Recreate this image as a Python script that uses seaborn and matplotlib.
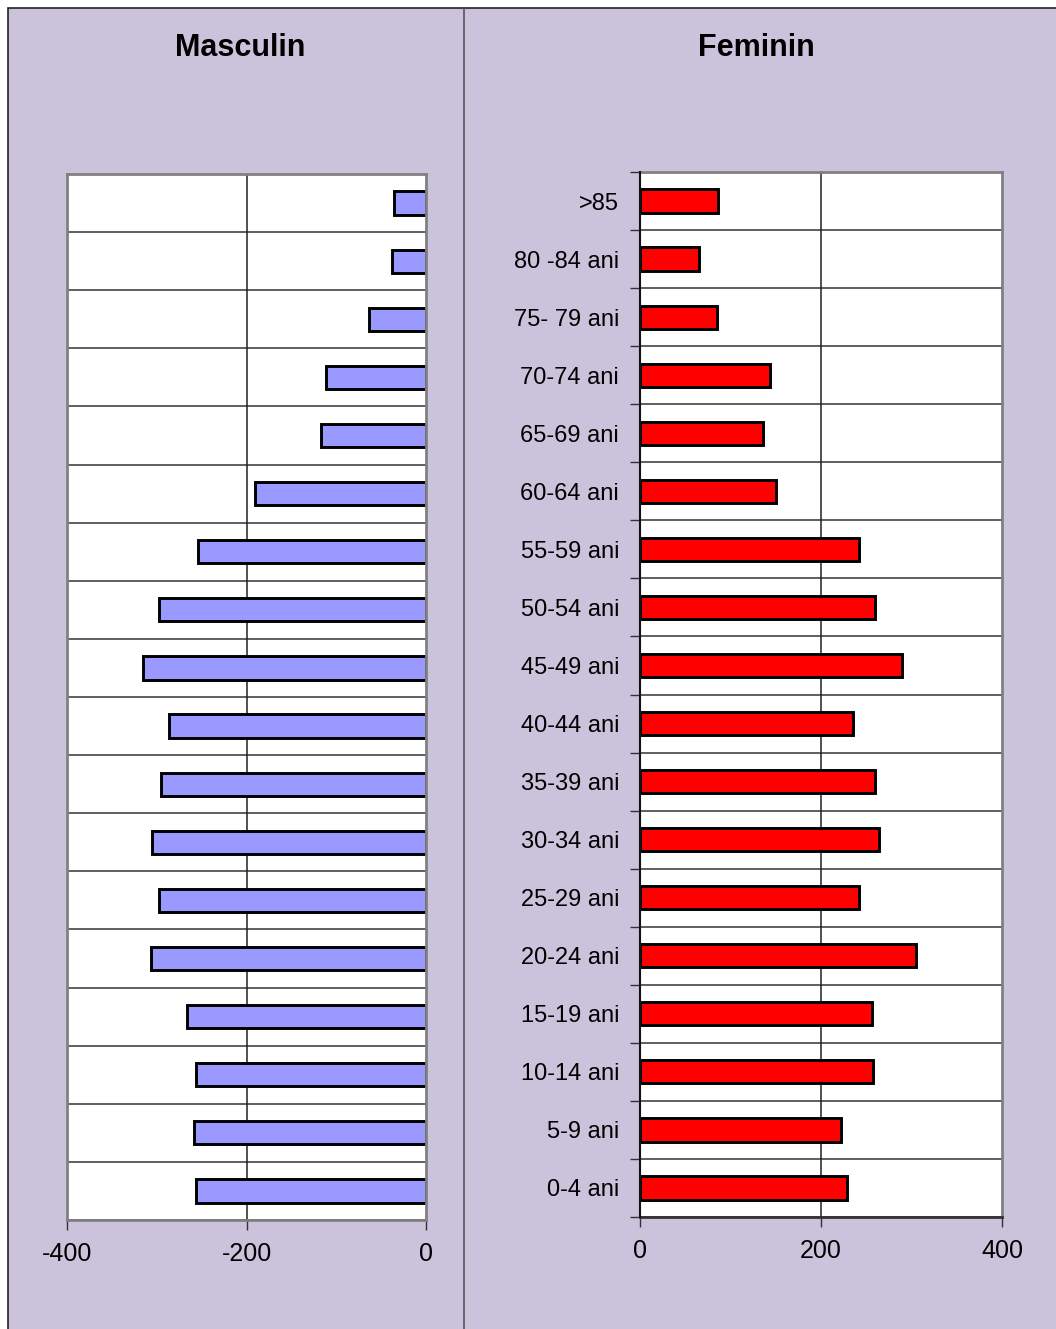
import matplotlib.pyplot as plt
import matplotlib.lines as mlines
import matplotlib.patches as mpatches
import seaborn as sns
import numpy as np


# age groups, top to bottom as in the chart
age_groups = ['>85', '80 -84 ani', '75- 79 ani', '70-74 ani', '65-69 ani',
              '60-64 ani', '55-59 ani', '50-54 ani', '45-49 ani', '40-44 ani',
              '35-39 ani', '30-34 ani', '25-29 ani', '20-24 ani', '15-19 ani',
              '10-14 ani', '5-9 ani', '0-4 ani']

masculin = [36, 38, 64, 111, 117, 191, 254, 298, 315, 286,
            295, 305, 298, 306, 266, 256, 259, 256]

feminin = [86, 65, 85, 144, 136, 150, 242, 260, 290, 235,
           260, 264, 242, 305, 256, 258, 222, 229]

x_ticks_left = [-400, -200, 0]
x_ticks_right = [0, 200, 400]

BG = '#CBC3DC'
BLUE = '#9999FF'
RED = '#FF0000'

sns.set_style('white')
plt.rcParams['font.family'] = ['Liberation Sans', 'DejaVu Sans']
plt.rcParams['text.color'] = 'black'
plt.rcParams['xtick.color'] = 'black'
plt.rcParams['ytick.color'] = 'black'

W, H = 1056, 1329
fig = plt.figure(figsize=(W / 100, H / 100), dpi=100, facecolor='white')

# purple chart area, bordered on top and left, running off the right/bottom
fig.patches.append(mpatches.Rectangle((8 / W, -0.01), 1.0, 1.01 - 8 / H,
                                      transform=fig.transFigure,
                                      facecolor=BG, edgecolor='#222222',
                                      linewidth=1.2, zorder=-2))
fig.lines.append(mlines.Line2D([464 / W, 464 / W], [0, 1 - 8 / H],
                               transform=fig.transFigure,
                               color='#555555', linewidth=1.2, zorder=-1))


def fig_box(x0, x1, y0, y1):
    # pixel box -> figure fraction [left, bottom, width, height]
    return [x0 / W, 1 - y1 / H, (x1 - x0) / W, (y1 - y0) / H]


ax_m = fig.add_axes(fig_box(67, 426, 174, 1220))
ax_f = fig.add_axes(fig_box(640, 1002, 172, 1217))

neg_masculin = [-v for v in masculin]
sns.barplot(x=neg_masculin, y=age_groups, orient='h', color=BLUE,
            saturation=1, width=0.4, edgecolor='black', linewidth=2.1,
            ax=ax_m, zorder=3)
sns.barplot(x=feminin, y=age_groups, orient='h', color=RED,
            saturation=1, width=0.4, edgecolor='black', linewidth=2.1,
            ax=ax_f, zorder=3)

n = len(age_groups)
bounds = np.arange(-0.5, n, 1)

for ax, ticks in ((ax_m, x_ticks_left), (ax_f, x_ticks_right)):
    ax.set_facecolor('white')
    ax.set_xlim(ticks[0], ticks[-1])
    ax.set_ylim(n - 0.5, -0.5)
    ax.set_xticks(ticks)
    ax.set_xticklabels([str(t) for t in ticks], fontsize=18)
    ax.set_yticks(bounds, minor=True)
    ax.grid(False)
    ax.grid(which='minor', axis='y', color='#333333', linewidth=1.1, zorder=1)
    for t in ticks[1:-1]:
        ax.axvline(t, color='#222222', linewidth=1.1, zorder=1)
    ax.set_xlabel('')
    ax.set_ylabel('')
    for side in ('top', 'bottom', 'left', 'right'):
        ax.spines[side].set_visible(True)
        ax.spines[side].set_color('#808080')
        ax.spines[side].set_linewidth(2)
    ax.tick_params(axis='x', which='major', direction='out', length=7,
                   width=1, color='#333333', pad=9, labelcolor='black',
                   bottom=True)

# left panel: no category labels
ax_m.set_yticks([])
ax_m.set_yticks(bounds, minor=True)
ax_m.tick_params(axis='y', which='both', left=False, labelleft=False)
ax_m.spines['right'].set_zorder(4)

# right panel: category labels with boundary ticks
ax_f.set_yticks(range(n))
ax_f.set_yticklabels(age_groups, fontsize=17)
ax_f.tick_params(axis='y', which='major', length=0, pad=15)
ax_f.tick_params(axis='y', which='minor', direction='out', length=7,
                 width=1, color='#333333', left=True)
ax_f.spines['left'].set_color('#111111')
ax_f.spines['left'].set_linewidth(1.5)
ax_f.spines['left'].set_zorder(4)
ax_f.spines['bottom'].set_color('#333333')

fig.text(240 / W, 1 - 48 / H, 'Masculin', ha='center', va='center',
         fontsize=22, fontweight='bold')
fig.text(756 / W, 1 - 48 / H, 'Feminin', ha='center', va='center',
         fontsize=22, fontweight='bold')

fig.savefig('out.png', dpi=100, facecolor='white')
